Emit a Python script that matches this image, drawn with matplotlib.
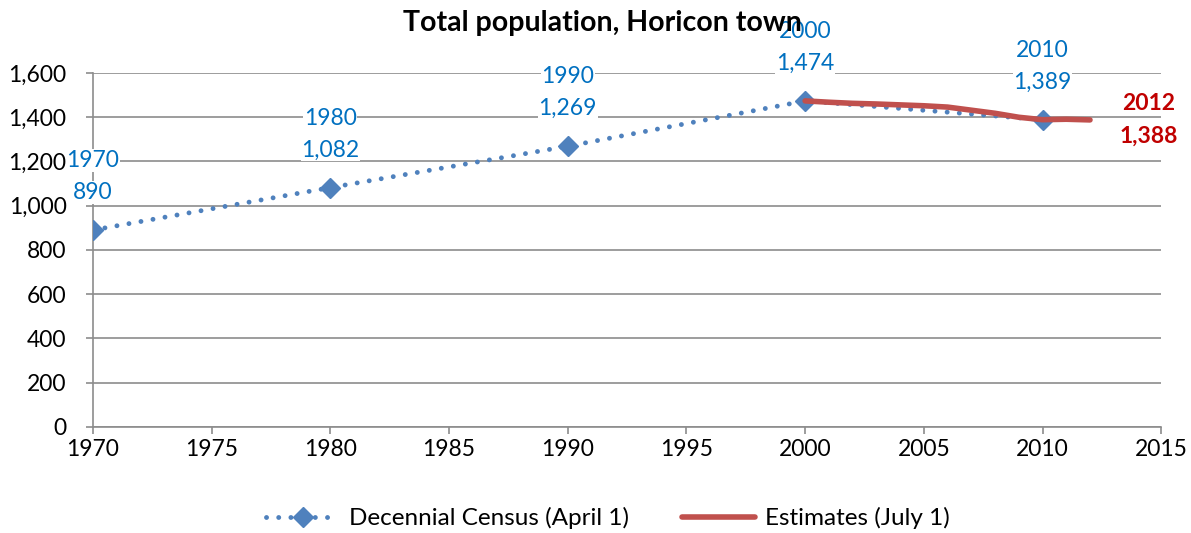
import matplotlib.pyplot as plt
from matplotlib.ticker import FuncFormatter

plt.rcParams['font.family'] = ['Lato', 'DejaVu Sans']

# Decennial census (April 1)
census_years = [1970, 1980, 1990, 2000, 2010]
census_pop = [890, 1082, 1269, 1474, 1389]

# Annual estimates (July 1)
est_years = [2000, 2001, 2002, 2003, 2004, 2005, 2006, 2007, 2008, 2009, 2010, 2011, 2012]
est_pop = [1474, 1468, 1463, 1460, 1456, 1452, 1446, 1432, 1418, 1400, 1389, 1391, 1388]

blue = '#4f81bd'
label_blue = '#0070c0'
red = '#c0504d'
dark_red = '#c00000'
grid_gray = '#8c8c8c'

fig = plt.figure(figsize=(11.91, 5.33), dpi=100)
ax = fig.add_axes([0.078, 0.199, 0.897, 0.664])

ax.plot(census_years, census_pop, color=blue, linestyle=(0, (0.01, 2.5)), linewidth=3.5,
        marker='D', markersize=10, dash_capstyle='round', label='Decennial Census (April 1)',
        zorder=3)
ax.plot(est_years, est_pop, color=red, linewidth=4, solid_capstyle='round',
        label='Estimates (July 1)', zorder=4)

# data labels: year on top, value below, white box hides the gridline behind
for yr, val in zip(census_years, census_pop):
    for txt, dy in [(str(yr), 50), (f'{val:,}', 27)]:
        ax.annotate(txt, (yr, val), xytext=(0, dy), textcoords='offset points',
                    ha='center', va='center', fontsize=16.5, color=label_blue,
                    bbox=dict(facecolor='white', edgecolor='none', pad=0.5), zorder=5,
                    annotation_clip=False)

for txt, dy in [(str(est_years[-1]), 11.5), (f'{est_pop[-1]:,}', -12)]:
    ax.annotate(txt, (est_years[-1], est_pop[-1]), xytext=(42, dy),
                textcoords='offset points', ha='center', va='center',
                fontsize=16.5, fontweight='bold', color=dark_red, annotation_clip=False)

ax.set_xlim(1970, 2015)
ax.set_ylim(0, 1600)
ax.set_xticks(range(1970, 2016, 5))
ax.set_yticks(range(0, 1601, 200))
ax.yaxis.set_major_formatter(FuncFormatter(lambda v, p: f'{int(v):,}'))
ax.grid(axis='y', color=grid_gray, linewidth=1.2)
ax.set_axisbelow(True)
for s in ['top', 'right']:
    ax.spines[s].set_visible(False)
for s in ['left', 'bottom']:
    ax.spines[s].set_color(grid_gray)
    ax.spines[s].set_linewidth(1.2)
ax.tick_params(axis='x', direction='out', length=5, width=1.2, color=grid_gray,
               labelsize=16.5, pad=4)
ax.tick_params(axis='y', direction='out', length=5, width=1.2, color=grid_gray,
               labelsize=16.5, pad=14)

title = ax.set_title('Total population, Horicon town', fontsize=20.5, fontweight='bold',
                     pad=30, x=0.477)
title.set_zorder(10)

ax.legend(loc='upper center', bbox_to_anchor=(0.482, -0.165), ncol=2, frameon=False,
          fontsize=17.5, handlelength=3, handletextpad=0.4, columnspacing=2.2)

plt.savefig('out.png', dpi=100)
